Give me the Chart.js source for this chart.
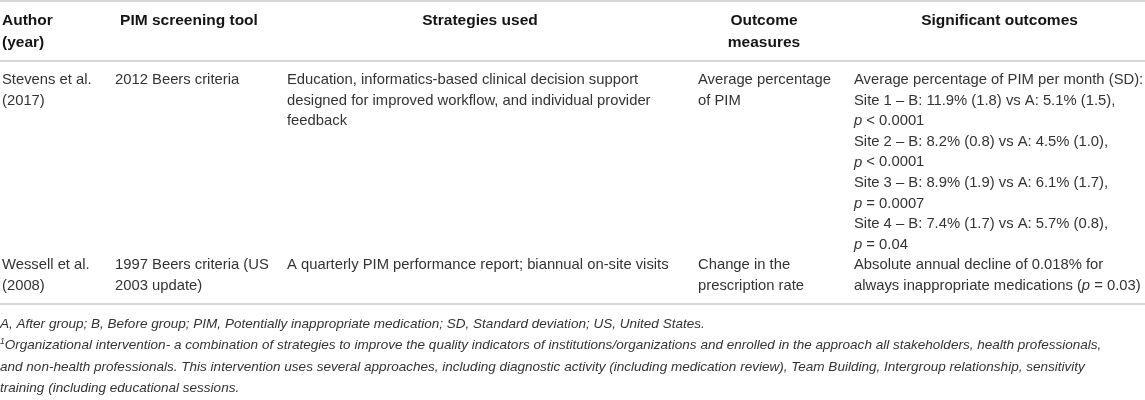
<!DOCTYPE html>
<html>
<head>
<meta charset="utf-8">
<script src="https://cdn.jsdelivr.net/npm/chart.js@4.4.1/dist/chart.umd.min.js"></script>
<style>
html, body { margin: 0; padding: 0; background: #fff; }
#wrap { width: 1145px; height: 400px; position: relative; }
</style>
</head>
<body>
<div id="wrap"><canvas id="pimTable"></canvas></div>
<script>
// table content, one array per column; each cell is a list of its printed lines
// *text* = italic run, ^text^ = superscript
const headers = [
    ["Author", "(year)"],
    ["PIM screening tool"],
    ["Strategies used"],
    ["Outcome", "measures"],
    ["Significant outcomes"]
];
const authors = [
    ["Stevens et al.", "(2017)"],
    ["Wessell et al.", "(2008)"]
];
const tools = [
    ["2012 Beers criteria"],
    ["1997 Beers criteria (US", "2003 update)"]
];
const strategies = [
    ["Education, informatics-based clinical decision support",
     "designed for improved workflow, and individual provider",
     "feedback"],
    ["A quarterly PIM performance report; biannual on-site visits"]
];
const measures = [
    ["Average percentage", "of PIM"],
    ["Change in the", "prescription rate"]
];
const outcomes = [
    ["Average percentage of PIM per month (SD):",
     "Site 1 \u2013 B: 11.9% (1.8) vs A: 5.1% (1.5),",
     "*p* < 0.0001",
     "Site 2 \u2013 B: 8.2% (0.8) vs A: 4.5% (1.0),",
     "*p* < 0.0001",
     "Site 3 \u2013 B: 8.9% (1.9) vs A: 6.1% (1.7),",
     "*p* = 0.0007",
     "Site 4 \u2013 B: 7.4% (1.7) vs A: 5.7% (0.8),",
     "*p* = 0.04"],
    ["Absolute annual decline of 0.018% for",
     "always inappropriate medications (*p* = 0.03)"]
];
const footnotes = [
    "A, After group; B, Before group; PIM, Potentially inappropriate medication; SD, Standard deviation; US, United States.",
    "^1^Organizational intervention- a combination of strategies to improve the quality indicators of institutions/organizations and enrolled in the approach all stakeholders, health professionals,",
    "and non-health professionals. This intervention uses several approaches, including diagnostic activity (including medication review), Team Building, Intergroup relationship, sensitivity",
    "training (including educational sessions."
];

// layout (in scale units = px of the 1145x400 picture)
const colLeft = [2, 115, 287, 698, 854];
const colRight = [100, 263, 673, 830, 1145];
const headAlign = ["left", "center", "center", "center", "center"];
const headY = [21, 43];
const bodyTop = 80, bodyLine = 20.6;
const footTop = 324, footLine = 21.5;
const rules = [1, 61, 304];
const FONT = '"Liberation Sans", Arial, Helvetica, sans-serif';

const columns = [authors, tools, strategies, measures, outcomes];

function drawRich(ctx, text, x, y, size, italicAll, color) {
    const parts = text.split(/(\*[^*]+\*|\^[^^]+\^)/).filter(s => s.length);
    let cx = x;
    parts.forEach(p => {
        let it = italicAll, sz = size, dy = 0, t = p;
        if (p[0] === '*') { it = true; t = p.slice(1, -1); }
        if (p[0] === '^') { it = true; t = p.slice(1, -1); sz = size * 0.62; dy = -size * 0.32; }
        ctx.font = (it ? 'italic ' : '') + sz + 'px ' + FONT;
        ctx.fillStyle = color;
        ctx.fillText(t, cx, y + dy);
        cx += ctx.measureText(t).width;
    });
}

const tablePlugin = {
    id: 'tableText',
    afterDraw(chart) {
        const ctx = chart.ctx;
        const xs = chart.scales.x, ys = chart.scales.y;
        ctx.save();
        ctx.textBaseline = 'middle';

        // horizontal rules
        ctx.strokeStyle = '#d6d6d6';
        ctx.lineWidth = 2;
        rules.forEach(r => {
            ctx.beginPath();
            ctx.moveTo(xs.getPixelForValue(0), ys.getPixelForValue(r));
            ctx.lineTo(xs.getPixelForValue(1145), ys.getPixelForValue(r));
            ctx.stroke();
        });

        // header
        ctx.fillStyle = '#151515';
        ctx.font = 'bold 15.5px ' + FONT;
        headers.forEach((h, c) => {
            ctx.textAlign = headAlign[c];
            const x = headAlign[c] === 'left' ? colLeft[c] : (colLeft[c] + colRight[c]) / 2;
            h.forEach((line, i) => {
                ctx.fillText(line, xs.getPixelForValue(x), ys.getPixelForValue(headY[i]));
            });
        });

        // body rows
        ctx.textAlign = 'left';
        let lineIdx = 0;
        for (let r = 0; r < authors.length; r++) {
            let rowLines = 0;
            columns.forEach((col, c) => {
                col[r].forEach((line, i) => {
                    const y = bodyTop + (lineIdx + i) * bodyLine;
                    drawRich(ctx, line, xs.getPixelForValue(colLeft[c]), ys.getPixelForValue(y), 14.8, false, '#333');
                });
                rowLines = Math.max(rowLines, col[r].length);
            });
            lineIdx += rowLines;
        }

        // footnotes, sized so the longest line spans like the reference
        ctx.font = 'italic 13px ' + FONT;
        const w1 = ctx.measureText(footnotes[1].replace(/\^/g, '')).width;
        const fs = 13 * 1105 / w1;
        footnotes.forEach((f, i) => {
            drawRich(ctx, f, xs.getPixelForValue(0), ys.getPixelForValue(footTop + i * footLine), fs, true, '#333');
        });
        ctx.restore();
    }
};

const chart = new Chart(document.getElementById('pimTable'), {
    type: 'scatter',
    data: { datasets: [] },
    options: {
        responsive: true,
        maintainAspectRatio: false,
        animation: false,
        layout: { padding: 0 },
        scales: {
            x: { type: 'linear', min: 0, max: 1145, display: false },
            y: { type: 'linear', min: 0, max: 400, reverse: true, display: false }
        },
        plugins: {
            legend: { display: false },
            tooltip: { enabled: false }
        }
    },
    plugins: [tablePlugin]
});
</script>
</body>
</html>
